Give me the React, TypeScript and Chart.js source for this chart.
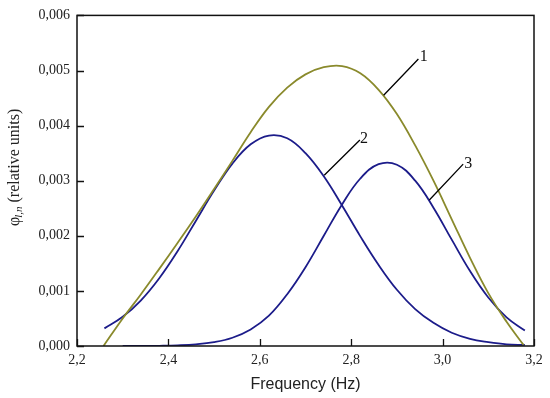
import React, { useEffect, useRef } from "react";
import { Chart, registerables } from "chart.js";

Chart.register(...registerables);

// Curve 1 (sum)
const freq1 = [2.258, 2.30, 2.34, 2.38, 2.42, 2.46, 2.50, 2.54, 2.58, 2.62, 2.66, 2.70, 2.74, 2.78, 2.82, 2.86, 2.90, 2.94, 2.98, 3.02, 3.06, 3.10, 3.14, 3.177];
const vals1 = [0, 0.0005, 0.00094, 0.0014, 0.00187, 0.00235, 0.00285, 0.00336, 0.00388, 0.00434, 0.00469, 0.00493, 0.00506, 0.00508, 0.00495, 0.00465, 0.00421, 0.00364, 0.003, 0.0023, 0.0016, 0.00096, 0.00044, 0.00002];

// Curve 2
const freq2 = [2.26, 2.30, 2.34, 2.38, 2.42, 2.46, 2.50, 2.54, 2.58, 2.62, 2.66, 2.70, 2.74, 2.78, 2.82, 2.86, 2.90, 2.94, 2.98, 3.02, 3.06, 3.10, 3.14, 3.18];
const vals2 = [0.00032, 0.00053, 0.00083, 0.00123, 0.00172, 0.00227, 0.00282, 0.00331, 0.00366, 0.00382, 0.00377, 0.0035, 0.00308, 0.00255, 0.00199, 0.00147, 0.00102, 0.00067, 0.00042, 0.00024, 0.00013, 0.00007, 0.00003, 0.00002];

// Curve 3
const freq3 = [2.30, 2.34, 2.38, 2.42, 2.46, 2.50, 2.54, 2.58, 2.62, 2.66, 2.70, 2.74, 2.78, 2.82, 2.86, 2.90, 2.94, 2.98, 3.02, 3.06, 3.10, 3.14, 3.18];
const vals3 = [0, 0, 0.000004, 0.000012, 0.00003, 0.00007, 0.00015, 0.0003, 0.00055, 0.00094, 0.00143, 0.002, 0.00257, 0.00304, 0.0033, 0.00329, 0.003, 0.00251, 0.00193, 0.00136, 0.00088, 0.00052, 0.00028];

// Curve annotations (data coordinates)
const labelTexts = ["1", "2", "3"];
const leaderFrom = [[2.871, 0.00455], [2.741, 0.0031], [2.971, 0.00265]];
const leaderTo = [[2.947, 0.00521], [2.819, 0.00374], [3.045, 0.0033]];
const labelAt = [[2.959, 0.00525], [2.828, 0.00376], [3.056, 0.00331]];

const xTitle = "Frequency (Hz)";
const yTitleSymbol = "φ";
const yTitleSub = "l,n";
const yTitleRest = " (relative units)";

const OLIVE = "#8a8a2c";
const NAVY = "#1c1c8a";

const toPts = (xs: number[], ys: number[]) => xs.map((x, i) => ({ x, y: ys[i] }));

const framePlugin = {
  id: "frameAndLabels",
  afterDraw(chart: any) {
    const { ctx, chartArea, scales } = chart;
    const xs = scales.x;
    const ys = scales.y;
    ctx.save();
    ctx.strokeStyle = "#111";
    ctx.lineWidth = 1.5;
    ctx.strokeRect(chartArea.left, chartArea.top, chartArea.right - chartArea.left, chartArea.bottom - chartArea.top);
    ctx.lineWidth = 1.3;
    ctx.beginPath();
    xs.ticks.forEach((t: any) => {
      const px = Math.round(xs.getPixelForValue(t.value)) + 0.5;
      ctx.moveTo(px, chartArea.bottom);
      ctx.lineTo(px, chartArea.bottom - 7);
    });
    ys.ticks.forEach((t: any) => {
      const py = Math.round(ys.getPixelForValue(t.value)) + 0.5;
      ctx.moveTo(chartArea.left, py);
      ctx.lineTo(chartArea.left + 7, py);
    });
    ctx.stroke();

    ctx.strokeStyle = "#000";
    ctx.lineWidth = 1.3;
    ctx.beginPath();
    leaderFrom.forEach((p, i) => {
      ctx.moveTo(xs.getPixelForValue(p[0]), ys.getPixelForValue(p[1]));
      ctx.lineTo(xs.getPixelForValue(leaderTo[i][0]), ys.getPixelForValue(leaderTo[i][1]));
    });
    ctx.stroke();
    ctx.fillStyle = "#111";
    ctx.font = '16px "Liberation Serif"';
    ctx.textAlign = "center";
    ctx.textBaseline = "middle";
    labelTexts.forEach((s, i) => {
      ctx.fillText(s, xs.getPixelForValue(labelAt[i][0]), ys.getPixelForValue(labelAt[i][1]));
    });

    ctx.font = '16px "Liberation Sans"';
    ctx.fillStyle = "#222";
    ctx.fillText(xTitle, (chartArea.left + chartArea.right) / 2, 385);

    ctx.translate(18.5, 226);
    ctx.rotate(-Math.PI / 2);
    ctx.textAlign = "left";
    ctx.textBaseline = "alphabetic";
    ctx.font = '16px "Liberation Serif"';
    ctx.fillText(yTitleSymbol, 0, 0);
    const w0 = ctx.measureText(yTitleSymbol).width;
    ctx.font = 'italic 11px "Liberation Serif"';
    ctx.fillText(yTitleSub, w0 - 1, 3.5);
    const w1 = ctx.measureText(yTitleSub).width;
    ctx.font = '16px "Liberation Serif"';
    ctx.fillText(yTitleRest, w0 + w1 - 1, 0);
    ctx.restore();
  },
};

export default function App() {
  const ref = useRef<HTMLCanvasElement | null>(null);
  useEffect(() => {
    document.body.style.margin = "0";
    const canvas = ref.current;
    if (!canvas) return;
    const tickFont = { family: "Liberation Serif", size: 14 };
    const line = (label: string, data: any, color: string) => ({
      label, data, borderColor: color, borderWidth: 1.8, pointRadius: 0, tension: 0.4, fill: false,
    });
    const chart = new Chart(canvas, {
      type: "line",
      data: {
        datasets: [
          line("1", toPts(freq1, vals1), OLIVE),
          line("2", toPts(freq2, vals2), NAVY),
          line("3", toPts(freq3, vals3), NAVY),
        ],
      },
      options: {
        animation: false,
        responsive: false,
        maintainAspectRatio: false,
        layout: { padding: { top: 11, right: 16, left: 0, bottom: 0 } },
        plugins: { legend: { display: false }, tooltip: { enabled: false } },
        scales: {
          x: {
            type: "linear",
            min: 2.2,
            max: 3.2,
            grid: { display: false, drawTicks: false },
            border: { display: false },
            ticks: {
              stepSize: 0.2,
              padding: 6,
              color: "#222",
              font: tickFont,
              maxRotation: 0,
              callback: (v: any) => Number(v).toFixed(1).replace(".", ","),
            },
            afterFit: (s: any) => { s.height = 52; },
          },
          y: {
            type: "linear",
            min: 0,
            max: 0.006,
            grid: { display: false, drawTicks: false },
            border: { display: false },
            ticks: {
              stepSize: 0.001,
              padding: 7,
              color: "#222",
              font: tickFont,
              callback: (v: any) => Number(v).toFixed(3).replace(".", ","),
            },
            afterFit: (s: any) => { s.width = 77; },
          },
        },
      },
      plugins: [framePlugin],
    } as any);
    return () => chart.destroy();
  }, []);
  return (
    <div style={{ width: 550, height: 398 }}>
      <canvas ref={ref} width={550} height={398} style={{ display: "block" }} />
    </div>
  );
}
